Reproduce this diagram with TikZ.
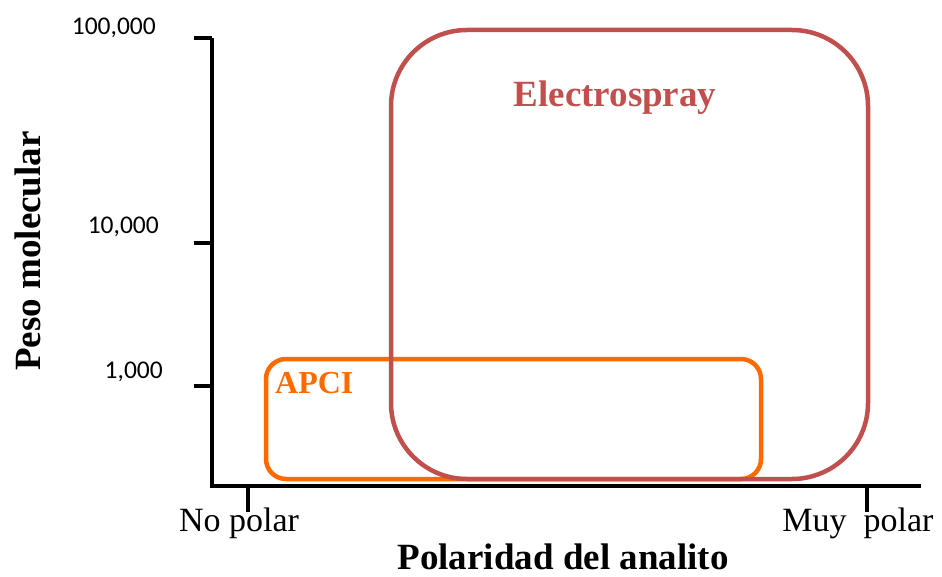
\documentclass[tikz,border=0pt]{standalone}
\usepackage{fontspec}
\setmainfont{Liberation Serif}
\newfontfamily\tickfont{Carlito}
\definecolor{esired}{HTML}{C0504D}
\definecolor{apciorange}{HTML}{FF6A00}
\begin{document}
\begin{tikzpicture}[x=1pt,y=-1pt,
  axisline/.style={line width=4.5pt,black},
  ticklabel/.style={font=\tickfont\fontsize{25.5}{25.5}\selectfont,inner sep=0pt},
  catlabel/.style={font=\fontsize{34}{34}\selectfont,inner sep=0pt,anchor=base},
  axistitle/.style={font=\bfseries\fontsize{37}{37}\selectfont,inner sep=0pt,anchor=base},
  esibox/.style={draw=esired,line width=4.5pt,rounded corners=76pt},
  apcibox/.style={draw=apciorange,line width=4.5pt,rounded corners=20pt}]
\useasboundingbox (0,0) rectangle (942,577);
% axes
\coordinate (ytop) at (212,38);
\coordinate (origin) at (212,486);
\coordinate (xend) at (921,486);
\draw[axisline] (ytop) -- (origin) -- (xend);
% y ticks
\coordinate (t1a) at (194,38);   \coordinate (t1b) at (212,38);
\coordinate (t2a) at (194,243);  \coordinate (t2b) at (212,243);
\coordinate (t3a) at (194,386);  \coordinate (t3b) at (212,386);
\draw[axisline] (t1a) -- (t1b);
\draw[axisline] (t2a) -- (t2b);
\draw[axisline] (t3a) -- (t3b);
% x ticks
\coordinate (x1a) at (248,486);  \coordinate (x1b) at (248,512);
\coordinate (x2a) at (867,486);  \coordinate (x2b) at (867,512);
\draw[axisline] (x1a) -- (x1b);
\draw[axisline] (x2a) -- (x2b);
% tick labels
\node[ticklabel,anchor=east] (l100k) at (156,28) {100,000};
\node[ticklabel,anchor=east] (l10k) at (159,227) {10,000};
\node[ticklabel,anchor=east] (l1k) at (163,372) {1,000};
\node[catlabel] (nopolar) at (239,531) {No polar};
\node[catlabel] (muypolar) at (858,531) {Muy\ \ polar};
% axis titles
\node[axistitle] (xtitle) at (563,569) {Polaridad del analito};
\node[axistitle,rotate=90] (ytitle) at (40,251) {Peso molecular};
% boxes
\draw[apcibox] (266,359) rectangle (761,479);
\draw[esibox] (391,30) rectangle (868,479);
\node[font=\bfseries\fontsize{32}{32}\selectfont,text=apciorange,inner sep=0pt,anchor=base west] (apci) at (275,393) {APCI};
\node[font=\bfseries\fontsize{37}{37}\selectfont,text=esired,inner sep=0pt,anchor=base] (esi) at (615,107) {Electrospray};
\end{tikzpicture}
\end{document}
